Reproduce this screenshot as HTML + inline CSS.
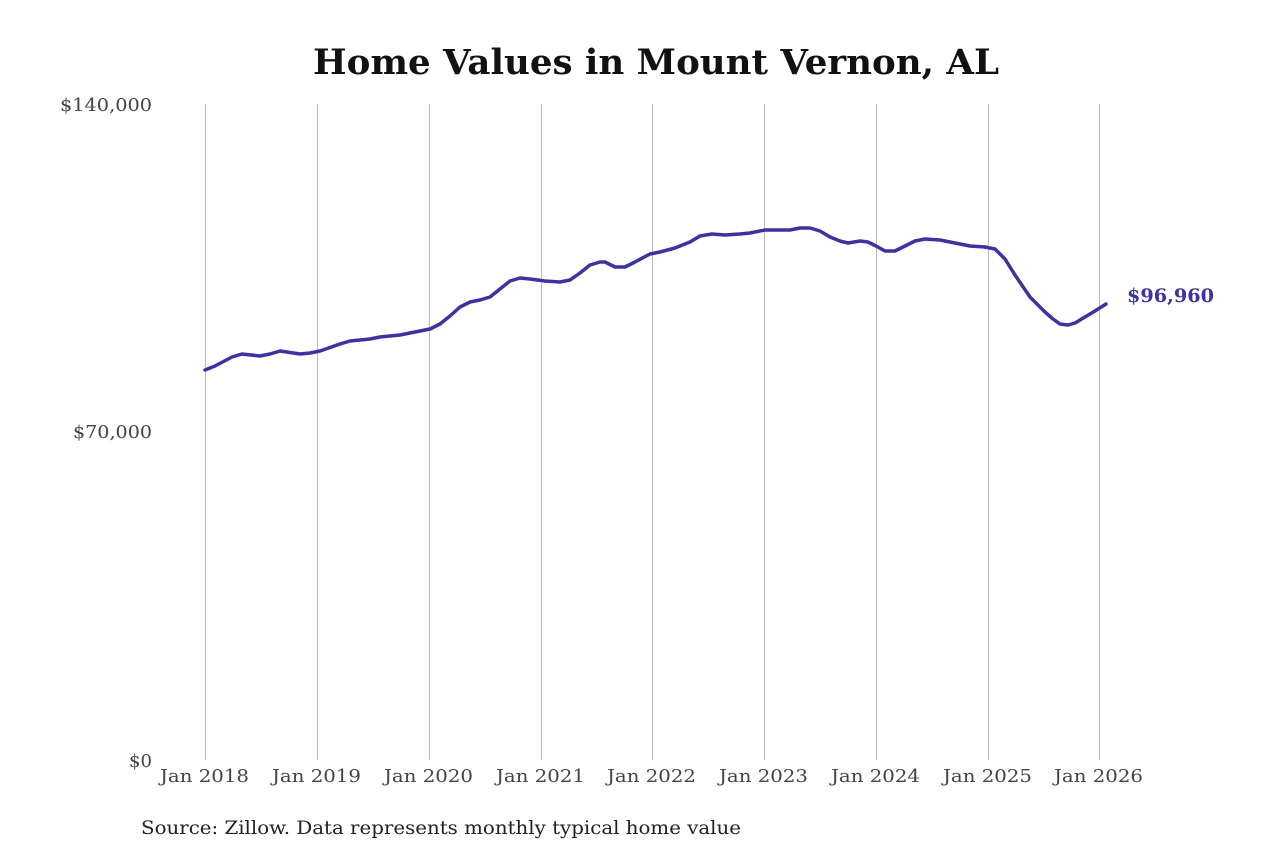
<!DOCTYPE html>
<html><head><style>
html,body{margin:0;padding:0;background:#fff;}
svg{display:block;}
text{font-family:"DejaVu Serif","Liberation Serif",serif;}
</style></head><body>
<svg width="1280" height="853" viewBox="0 0 1280 853">
<text x="313" y="74" textLength="686" lengthAdjust="spacingAndGlyphs" font-size="35" font-weight="bold" fill="#111">Home Values in Mount Vernon, AL</text>
<g stroke="#bdbdbd" stroke-width="1">
<line x1="205.5" y1="104" x2="205.5" y2="760"/>
<line x1="317.5" y1="104" x2="317.5" y2="760"/>
<line x1="429.5" y1="104" x2="429.5" y2="760"/>
<line x1="541.5" y1="104" x2="541.5" y2="760"/>
<line x1="652.5" y1="104" x2="652.5" y2="760"/>
<line x1="764.5" y1="104" x2="764.5" y2="760"/>
<line x1="876.5" y1="104" x2="876.5" y2="760"/>
<line x1="988.5" y1="104" x2="988.5" y2="760"/>
<line x1="1099.5" y1="104" x2="1099.5" y2="760"/>
</g>
<g font-size="18" fill="#444">
<text x="60" y="111" textLength="92" lengthAdjust="spacingAndGlyphs">$140,000</text>
<text x="73" y="438" textLength="79" lengthAdjust="spacingAndGlyphs">$70,000</text>
<text x="129" y="767" textLength="23" lengthAdjust="spacingAndGlyphs">$0</text>
</g>
<g font-size="18" fill="#444">
<text x="160" y="782" textLength="89" lengthAdjust="spacingAndGlyphs">Jan 2018</text>
<text x="272" y="782" textLength="89" lengthAdjust="spacingAndGlyphs">Jan 2019</text>
<text x="384" y="782" textLength="89" lengthAdjust="spacingAndGlyphs">Jan 2020</text>
<text x="496" y="782" textLength="89" lengthAdjust="spacingAndGlyphs">Jan 2021</text>
<text x="607" y="782" textLength="89" lengthAdjust="spacingAndGlyphs">Jan 2022</text>
<text x="719" y="782" textLength="89" lengthAdjust="spacingAndGlyphs">Jan 2023</text>
<text x="831" y="782" textLength="89" lengthAdjust="spacingAndGlyphs">Jan 2024</text>
<text x="943" y="782" textLength="89" lengthAdjust="spacingAndGlyphs">Jan 2025</text>
<text x="1054" y="782" textLength="89" lengthAdjust="spacingAndGlyphs">Jan 2026</text>
</g>
<polyline fill="none" stroke="#3a33a0" stroke-width="3.5" stroke-linejoin="round" stroke-linecap="round"
points="205,370 215,366 232,357 242,354 260,356 270,354 280,351 300,354 310,353 320,351 340,344 350,341 370,339 380,337 400,335 420,331 430,329 440,324 450,316 460,307 470,302 480,300 490,297 500,289 510,281 520,278 530,279 545,281 560,282 570,280 580,273 590,265 600,262 605,262 615,267 625,267 635,262 650,254 660,252 675,248 690,242 700,236 712,234 725,235 740,234 750,233 765,230 780,230 790,230 800,228 810,228 820,231 830,237 840,241 848,243 860,241 868,242 876,246 885,251 895,251 905,246 915,241 925,239 940,240 955,243 970,246 985,247 995,249 1005,259 1015,275 1030,297 1035,302 1045,312 1053,319 1060,324 1068,325 1075,323 1085,317 1095,311 1106,304"/>
<text x="1127" y="302" textLength="87" lengthAdjust="spacingAndGlyphs" font-size="19" font-weight="bold" fill="#3a33a0">$96,960</text>
<text x="141" y="834" textLength="600" lengthAdjust="spacingAndGlyphs" font-size="19" fill="#222">Source: Zillow. Data represents monthly typical home value</text>
</svg>
</body></html>
